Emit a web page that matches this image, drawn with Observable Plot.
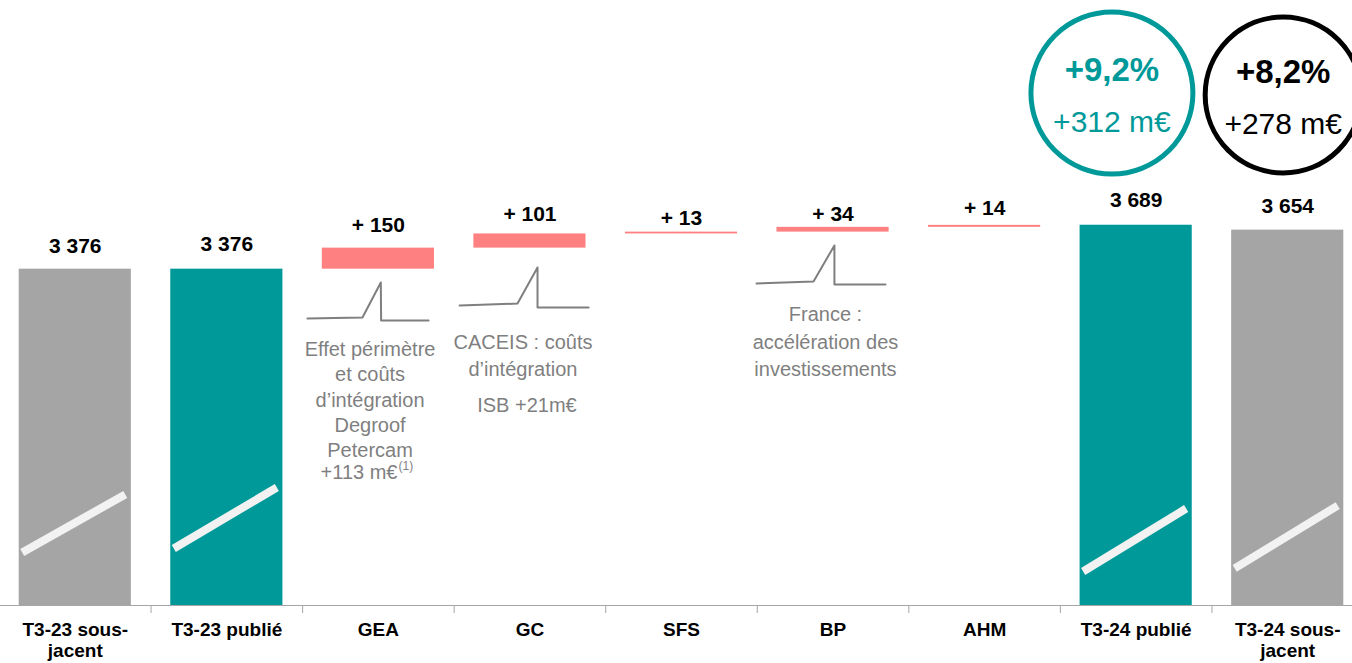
<!DOCTYPE html>
<html><head><meta charset="utf-8">
<script src="https://cdn.jsdelivr.net/npm/d3@7"></script>
<script src="https://cdn.jsdelivr.net/npm/@observablehq/plot@0.6"></script>
<style>body{margin:0;background:#fff;} #chart svg{display:block}</style>
</head><body><div id="chart"></div>
<script>
// ---- data ----
const categories = ["T3-23 sous-\njacent", "T3-23 publié", "GEA", "GC", "SFS", "BP", "AHM", "T3-24 publié", "T3-24 sous-\njacent"];
const kinds = ["base", "total", "delta", "delta", "delta", "delta", "delta", "total", "base"];
const values = [3376, 3376, 150, 101, 13, 34, 14, 3689, 3654];
const valueLabels = ["3 376", "3 376", "+ 150", "+ 101", "+ 13", "+ 34", "+ 14", "3 689", "3 654"];

// axis-break slash levels (value units) for the full bars
const breakCats = [0, 1, 7, 8];
const breakLow = [1358, 1386, 1222, 1244];
const breakHigh = [1771, 1821, 1671, 1692];

// growth bubbles
const bubbleCats = [7, 8];
const bubbleShift = [-0.16, -0.03];
const bubbleLevel = [4631, 4617];
const bubblePct = ["+9,2%", "+8,2%"];
const bubbleAmt = ["+312 m€", "+278 m€"];

// comment spikes (offset within category, value)
const spikeCats = [2, 3, 5];
const spikeShapes = [
  [[-0.468, 3025], [-0.105, 3032], [0.016, 3281], [0.018, 3010], [0.331, 3010]],
  [[-0.464, 3117], [-0.082, 3131], [0.050, 3388], [0.050, 3103], [0.387, 3103]],
  [[-0.505, 3274], [-0.129, 3288], [0.009, 3545], [0.009, 3267], [0.346, 3267]]
];

// comment texts
const noteCats = [2, 2, 3, 3, 5];
const noteShift = [-0.055, 0.126, -0.046, -0.02, -0.05];
const noteLevel = [2455, 1927, 2772, 2405, 2871];
const noteTexts = [
  "Effet périmètre\net coûts\nd’intégration\nDegroof\nPetercam",
  "+113 m€",
  "CACEIS : coûts\nd’intégration",
  "ISB +21m€",
  "France :\naccélération des\ninvestissements"
];

// ---- build ----
const axisBase = 980;
let running = 0;
const bars = values.map((v, i) => {
  const k = kinds[i];
  let y1, y2;
  if (k === "delta") { y1 = running; y2 = running + v; running = y2; }
  else { y1 = axisBase; y2 = v; if (i === 1) running = v; }
  return {i, k, y1, y2, label: valueLabels[i]};
});
const colorOf = {base: "#A5A5A5", total: "#009999", delta: "#FF8080"};
const lift = [-23, -25, -23, -20, -14, -13, -17, -25, -24];

const slashes = breakCats.map((c, j) => ({x1: c - 0.35, x2: c + 0.33, y1: breakLow[j], y2: breakHigh[j]}));
const spikeRows = spikeCats.flatMap((c, j) => spikeShapes[j].map(([dx, y]) => ({g: j, x: c + dx, y})));
const notes = noteCats.map((c, j) => ({x: c + noteShift[j], y: noteLevel[j], t: noteTexts[j], j}));
const bubbles = bubbleCats.map((c, j) => ({x: c + bubbleShift[j], y: bubbleLevel[j], pct: bubblePct[j], amt: bubbleAmt[j], j}));
const bubbleColor = ["#009999", "#000000"];
const bubbleR = [81, 78];

const font = "'Liberation Sans', Arial, sans-serif";

const marks = [
  Plot.rectY(bars, {x1: d => d.i - 0.37, x2: d => d.i + 0.37, y1: "y1", y2: "y2", fill: d => colorOf[d.k]}),
  Plot.link(slashes, {x1: "x1", x2: "x2", y1: "y1", y2: "y2", stroke: "#F2F2F2", strokeWidth: 8, strokeLinecap: "butt"}),
  Plot.ruleY([axisBase], {stroke: "#A6A6A6", strokeWidth: 1.2}),
  Plot.axisX({ticks: d3.range(-0.5, 9, 1), tickSize: 8, tickFormat: () => "", stroke: "#A6A6A6", strokeWidth: 1}),
  Plot.text(categories.map((c, i) => ({i, c})), {x: "i", y: () => axisBase, text: "c", dy: 16, lineAnchor: "top", fontSize: 19, fontWeight: "bold", lineHeight: 1.1, fill: "#000"}),
  ...bars.map(b => Plot.text([b], {x: "i", y: "y2", text: "label", dy: lift[b.i], fontSize: 21, fontWeight: "bold", fill: "#000"})),
  Plot.line(spikeRows, {x: "x", y: "y", z: "g", stroke: "#7F7F7F", strokeWidth: 2}),
  Plot.text(notes.filter(n => n.j === 0), {x: "x", y: "y", text: "t", fontSize: 20, lineHeight: 1.27, fill: "#7F7F7F"}),
  Plot.text(notes.filter(n => n.j === 1), {x: "x", y: "y", text: "t", fontSize: 20, textAnchor: "end", fill: "#7F7F7F"}),
  Plot.text(notes.filter(n => n.j === 1), {x: "x", y: "y", text: () => "(1)", fontSize: 12, textAnchor: "start", dx: 1, dy: -6, fill: "#7F7F7F"}),
  Plot.text(notes.filter(n => n.j === 2), {x: "x", y: "y", text: "t", fontSize: 20, lineHeight: 1.35, fill: "#7F7F7F"}),
  Plot.text(notes.filter(n => n.j === 3), {x: "x", y: "y", text: "t", fontSize: 20, fill: "#7F7F7F"}),
  Plot.text(notes.filter(n => n.j === 4), {x: "x", y: "y", text: "t", fontSize: 20, lineHeight: 1.375, fill: "#7F7F7F"}),
  ...bubbles.map(b => Plot.dot([b], {x: "x", y: "y", r: bubbleR[b.j], stroke: bubbleColor[b.j], strokeWidth: 5, fill: "none"})),
  ...bubbles.map(b => Plot.text([b], {x: "x", y: "y", text: "pct", dy: -23, fontSize: 33, fontWeight: "bold", fill: bubbleColor[b.j]})),
  ...bubbles.map(b => Plot.text([b], {x: "x", y: "y", text: "amt", dy: 29, fontSize: 30, fill: bubbleColor[b.j]}))
];

const chart = Plot.plot({
  width: 1352, height: 663,
  marginLeft: -1, marginRight: -11, marginTop: 0, marginBottom: 58,
  x: {type: "linear", domain: [-0.5, 8.5]},
  y: {domain: [axisBase, 5290], axis: null},
  style: {fontFamily: font, background: "#ffffff", overflow: "visible"},
  marks
});
document.getElementById("chart").appendChild(chart);
</script>
</body></html>
